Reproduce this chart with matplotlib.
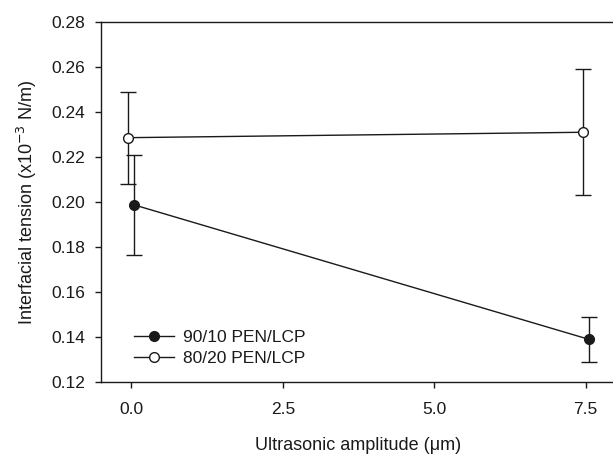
import matplotlib.pyplot as plt
from matplotlib.lines import Line2D

plt.rcParams['font.family'] = ['Liberation Sans', 'DejaVu Sans']

# ultrasonic amplitude (um), slightly offset so error bars don't overlap
x_9010 = [0.05, 7.55]
y_9010 = [0.1987, 0.1390]
err_9010 = [0.0222, 0.0101]

x_8020 = [-0.05, 7.45]
y_8020 = [0.2286, 0.2310]
err_8020 = [0.0205, 0.0280]

xticks = [0.0, 2.5, 5.0, 7.5]
yticks = [0.12, 0.14, 0.16, 0.18, 0.20, 0.22, 0.24, 0.26, 0.28]

fig = plt.figure(figsize=(6.13, 4.55), dpi=100)
ax = fig.add_axes([0.1648, 0.1604, 0.84, 0.7912])

c = '#1a1a1a'
ax.errorbar(x_9010, y_9010, yerr=err_9010, color=c, marker='o', ms=7,
            mfc=c, mec=c, lw=1.0, elinewidth=1.0, capsize=5.5, capthick=1.0)
ax.errorbar(x_8020, y_8020, yerr=err_8020, color=c, marker='o', ms=7,
            mfc='white', mec=c, mew=1.0, lw=1.0, elinewidth=1.0, capsize=5.5,
            capthick=1.0)

ax.set_xlim(-0.5, 8.0)
ax.set_ylim(0.12, 0.28)
ax.set_xticks(xticks)
ax.set_xticklabels(['%.1f' % t for t in xticks])
ax.set_yticks(yticks)
ax.set_yticklabels(['%.2f' % t for t in yticks])
ax.spines['right'].set_visible(False)
for s in ['left', 'bottom', 'top']:
    ax.spines[s].set_linewidth(1.0)
    ax.spines[s].set_color(c)
ax.tick_params(direction='out', length=4.5, width=1.0, colors=c, labelsize=12.5)
ax.tick_params(axis='y', pad=7)
ax.tick_params(axis='x', pad=10)

ax.set_xlabel('Ultrasonic amplitude (μm)', fontsize=13, color=c, labelpad=14)
ax.set_ylabel(r'Interfacial tension (x10$^{-3}$ N/m)', fontsize=13, color=c, labelpad=9)

handles = [
    Line2D([], [], color=c, marker='o', ms=7, mfc=c, mec=c, lw=1.0),
    Line2D([], [], color=c, marker='o', ms=7, mfc='white', mec=c, lw=1.0),
]
leg = ax.legend(handles, ['90/10 PEN/LCP', '80/20 PEN/LCP'], loc='lower left',
                bbox_to_anchor=(0.034, 0.0), frameon=False, fontsize=12.5,
                handlelength=2.3, labelspacing=0.35, handletextpad=0.5)
for t in leg.get_texts():
    t.set_color(c)

fig.savefig('out.png', dpi=100)
